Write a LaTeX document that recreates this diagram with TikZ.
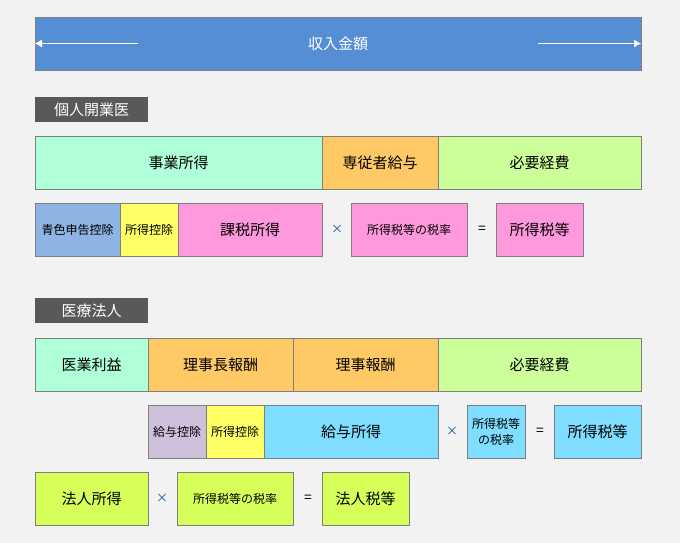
\documentclass[tikz,border=0pt]{standalone}
\usepackage{fontspec}
\setmainfont{Noto Sans CJK JP}
\usepackage{xcolor}
\usetikzlibrary{arrows.meta,positioning}
\definecolor{PageGray}{HTML}{F2F2F2}
\definecolor{BarBlue}{HTML}{558ED5}
\definecolor{TagGray}{HTML}{595959}
\definecolor{EdgeGray}{HTML}{7F7F7F}
\definecolor{TimesNavy}{HTML}{1F4E9C}
\definecolor{MintBox}{HTML}{AFFFD8}
\definecolor{OrangeBox}{HTML}{FFCA66}
\definecolor{LimeBox}{HTML}{CCFF99}
\definecolor{BlueBox}{HTML}{8DB4E2}
\definecolor{YellowBox}{HTML}{FFFF66}
\definecolor{PinkBox}{HTML}{FF99DD}
\definecolor{LilacBox}{HTML}{CCC0DA}
\definecolor{CyanBox}{HTML}{7FDEFF}
\definecolor{GreenBox}{HTML}{D7FF5A}
\tikzset{
  taxbox/.style={draw=EdgeGray, line width=0.8pt, inner sep=0pt, outer sep=0pt, minimum height=53, align=center, font=\fontsize{15}{18}\selectfont},
  taxsmall/.style={taxbox, font=\fontsize{12}{16}\selectfont},
  taxtag/.style={fill=TagGray, text=white, minimum width=113, minimum height=25, inner sep=0pt, font=\fontsize{15}{18}\selectfont},
  taxtimes/.style={text=TimesNavy, font=\fontsize{12}{13}\selectfont},
  taxeq/.style={font=\fontsize{14}{16}\selectfont},
  bararrow/.style={-{Latex[length=7pt,width=8pt]}, draw=white, line width=0.8pt}
}

\begin{document}
\begin{tikzpicture}[x=1pt,y=-1pt]
  \fill[PageGray] (0,0) rectangle (680,543);
  % income bar
  \node[taxbox, fill=BarBlue, text=white, minimum width=606, anchor=north west] (income) at (35,17) {収入金額};
  \coordinate (incomeL) at (138,43.5);
  \coordinate (incomeR) at (538,43.5);
  \draw[bararrow] (incomeL) -- (income.west);
  \draw[bararrow] (incomeR) -- (income.east);

  % kojin
  \node[taxtag, anchor=north west] (kojin) at (35,97) {個人開業医};
  \node[taxbox, fill=MintBox, minimum width=287, anchor=north west] (jigyo) at (35,136) {事業所得};
  \node[taxbox, fill=OrangeBox, minimum width=116, right=0pt of jigyo] (senju) {専従者給与};
  \node[taxbox, fill=LimeBox, minimum width=203, right=0pt of senju] (keihiA) {必要経費};

  \node[taxsmall, fill=BlueBox, minimum width=85, anchor=north west] (aoiro) at (35,203) {青色申告控除};
  \node[taxsmall, fill=YellowBox, minimum width=58, right=0pt of aoiro] (kojoA) {所得控除};
  \node[taxbox, fill=PinkBox, minimum width=144, right=0pt of kojoA] (kazei) {課税所得};
  \node[taxtimes] (timesA) at (337,229.5) {×};
  \node[taxsmall, fill=PinkBox, minimum width=116, anchor=north west] (rateA) at (351,203) {所得税等の税率};
  \node[taxeq] (eqA) at (482,229.5) {=};
  \node[taxbox, fill=PinkBox, minimum width=87, anchor=north west] (taxA) at (496,203) {所得税等};

  % hojin
  \node[taxtag, anchor=north west] (hojin) at (35,298) {医療法人};
  \node[taxbox, fill=MintBox, minimum width=113, anchor=north west] (rieki) at (35,338) {医業利益};
  \node[taxbox, fill=OrangeBox, minimum width=145, right=0pt of rieki] (rijicho) {理事長報酬};
  \node[taxbox, fill=OrangeBox, minimum width=145, right=0pt of rijicho] (riji) {理事報酬};
  \node[taxbox, fill=LimeBox, minimum width=203, right=0pt of riji] (keihiB) {必要経費};

  \node[taxsmall, fill=LilacBox, minimum width=58, anchor=north west] (kyuyokojo) at (148,405) {給与控除};
  \node[taxsmall, fill=YellowBox, minimum width=58, right=0pt of kyuyokojo] (kojoB) {所得控除};
  \node[taxbox, fill=CyanBox, minimum width=174, right=0pt of kojoB] (kyuyo) {給与所得};
  \node[taxtimes] (timesB) at (452,431.5) {×};
  \node[taxsmall, fill=CyanBox, minimum width=58, anchor=north west] (rateB) at (467,405) {所得税等\\の税率};
  \node[taxeq] (eqB) at (540,431.5) {=};
  \node[taxbox, fill=CyanBox, minimum width=87, anchor=north west] (taxB) at (554,405) {所得税等};

  \node[taxbox, fill=GreenBox, minimum width=113, anchor=north west] (hojinshotoku) at (35,472) {法人所得};
  \node[taxtimes] (timesC) at (162,498.5) {×};
  \node[taxsmall, fill=GreenBox, minimum width=116, anchor=north west] (rateC) at (177,472) {所得税等の税率};
  \node[taxeq] (eqC) at (308,498.5) {=};
  \node[taxbox, fill=GreenBox, minimum width=87, anchor=north west] (hojinzei) at (322,472) {法人税等};
\end{tikzpicture}
\end{document}
